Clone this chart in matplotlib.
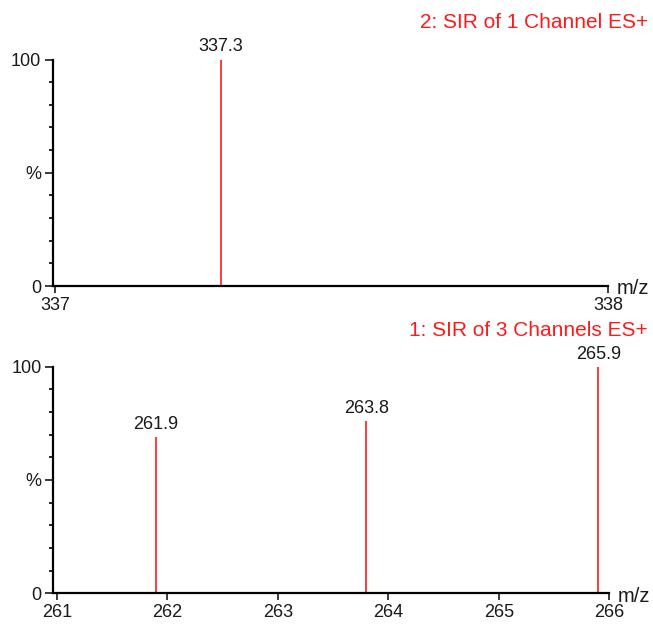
import matplotlib.pyplot as plt
from matplotlib.ticker import MultipleLocator

# SIR channel 2: single ion
top_mz = [337.3]
top_pct = [100]
top_title = "2: SIR of 1 Channel ES+"
top_ticks = [337, 338]

# SIR channel 1: three ions
bot_mz = [261.9, 263.8, 265.9]
bot_pct = [69, 76, 100]
bot_title = "1: SIR of 3 Channels ES+"
bot_ticks = [261, 262, 263, 264, 265, 266]

plt.rcParams['font.family'] = ['Liberation Sans', 'DejaVu Sans']
plt.rcParams['font.size'] = 13

W, H = 653, 626
fig = plt.figure(figsize=(W / 100, H / 100), dpi=100)
red = '#ff1a1a'
ink = '#1a1a1a'


def spectrum(rect, mz, pct, ticks, xlo, title, title_y):
    ax = fig.add_axes(rect)
    ax.vlines(mz, 0, pct, color=red, lw=1.2)
    for x, y in zip(mz, pct):
        ax.annotate(f"{x:.1f}", (x, y), xytext=(0, 3), textcoords='offset points',
                    ha='center', va='bottom', color=ink, annotation_clip=False)
    ax.set_xlim(xlo, ticks[-1])
    ax.set_ylim(0, 100)
    ax.set_xticks(ticks)
    ax.set_xticklabels([str(t) for t in ticks])
    ax.set_yticks([0, 50, 100])
    ax.set_yticklabels(['0', '%', '100'])
    ax.yaxis.set_minor_locator(MultipleLocator(10))
    for s in ('top', 'right'):
        ax.spines[s].set_visible(False)
    for s in ('left', 'bottom'):
        ax.spines[s].set_linewidth(1.6)
        ax.spines[s].set_color('black')
    ax.tick_params(axis='y', which='major', length=6, width=1.2, pad=2.5, colors=ink)
    ax.tick_params(axis='y', which='minor', length=3, width=1.2)
    ax.tick_params(axis='x', which='major', length=5, width=1.2, pad=3, colors=ink)
    ax.text(1.015, -0.012, 'm/z', transform=ax.transAxes, ha='left', va='center',
            color=ink, fontsize=14.5)
    fig.text(648 / W, title_y, title, ha='right', va='center', color=red, fontsize=15)
    return ax


spectrum([53 / W, 340 / H, 555 / W, 226.5 / H], top_mz, top_pct, top_ticks,
         337 - 2 / 553, top_title, 1 - 22 / H)
spectrum([53.3 / W, 32.7 / H, 556 / W, 226.6 / H], bot_mz, bot_pct, bot_ticks,
         261 - 3.4 / 110.5, bot_title, 1 - 330 / H)

fig.savefig('out.png', dpi=100, facecolor='white')
